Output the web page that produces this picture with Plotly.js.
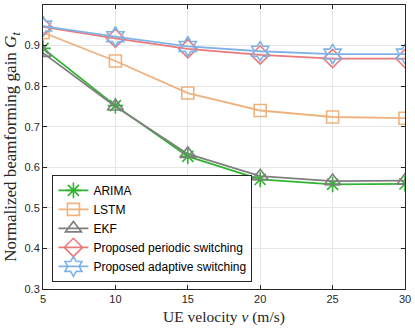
<!DOCTYPE html>
<html><head><meta charset="utf-8">
<script src="https://cdn.plot.ly/plotly-3.0.1.min.js"></script>
<style>html,body{margin:0;padding:0;background:#fff}#chart{width:415px;height:328px}</style>
</head><body><div id="chart"></div>
<script>
const velocity = [5, 10, 15, 20, 25, 30];
const arima = [0.893, 0.752, 0.627, 0.570, 0.558, 0.559];
const lstm = [0.932, 0.862, 0.783, 0.740, 0.724, 0.721];
const ekf = [0.882, 0.750, 0.633, 0.578, 0.566, 0.567];
const periodic = [0.946, 0.918, 0.892, 0.877, 0.868, 0.868];
const adaptive = [0.948, 0.922, 0.898, 0.886, 0.879, 0.879];
const names = ["ARIMA", "LSTM", "EKF", "Proposed periodic switching", "Proposed adaptive switching"];
const xTicks = [5, 10, 15, 20, 25, 30];
const yTicks = [0.3, 0.4, 0.5, 0.6, 0.7, 0.8, 0.9, 1];

const series = [arima, lstm, ekf, periodic, adaptive];
const colors = ["#2fb52f", "#eeb27f", "#7f7f7f", "#e87a7a", "#7fb3e8"];
const symbols = ["asterisk-open", "square-open", "triangle-up-open", "diamond-open", "hexagram-open"];
const sizes = [13, 12, 14, 14, 15];

const traces = series.map((ys, i) => ({
  x: velocity, y: ys, name: names[i], type: "scatter", mode: "lines+markers",
  line: {color: colors[i], width: 1.8},
  marker: {symbol: symbols[i], size: sizes[i], color: colors[i], line: {color: colors[i], width: 1.6}}
}));

const axisCommon = {
  showline: true, mirror: "ticks", linecolor: "#262626", linewidth: 1,
  ticks: "inside", ticklen: 4, tickcolor: "#262626",
  showgrid: true, gridcolor: "#e6e6e6", gridwidth: 1, zeroline: false,
  tickfont: {family: "Liberation Sans, Arial, sans-serif", size: 11, color: "#262626"}
};

const layout = {
  width: 415, height: 328,
  margin: {l: 43, r: 10, t: 5, b: 39},
  paper_bgcolor: "#ffffff", plot_bgcolor: "#ffffff",
  showlegend: true,
  xaxis: Object.assign({}, axisCommon, {
    range: [5, 30], tickvals: xTicks, ticktext: xTicks.map(String),
    title: {text: "UE velocity <i>v</i> (m/s)", font: {family: "Liberation Serif, DejaVu Serif, serif", size: 15.5, color: "#262626"}, standoff: 6}
  }),
  yaxis: Object.assign({}, axisCommon, {
    range: [0.3, 1], tickvals: yTicks, ticktext: yTicks.map(v => String(v)),
    title: {text: "Normalized beamforming gain <i>G</i><sub><i>t</i></sub>", font: {family: "Liberation Serif, DejaVu Serif, serif", size: 17, color: "#262626"}, standoff: 3}
  }),
  legend: {
    x: 0.026, y: 0.025, xanchor: "left", yanchor: "bottom",
    bgcolor: "#ffffff", bordercolor: "#262626", borderwidth: 1,
    font: {family: "Liberation Sans, Arial, sans-serif", size: 12, color: "#000"},
    tracegroupgap: 0, itemwidth: 30
  }
};

Plotly.newPlot("chart", traces, layout, {displayModeBar: false, staticPlot: true});
</script></body></html>
